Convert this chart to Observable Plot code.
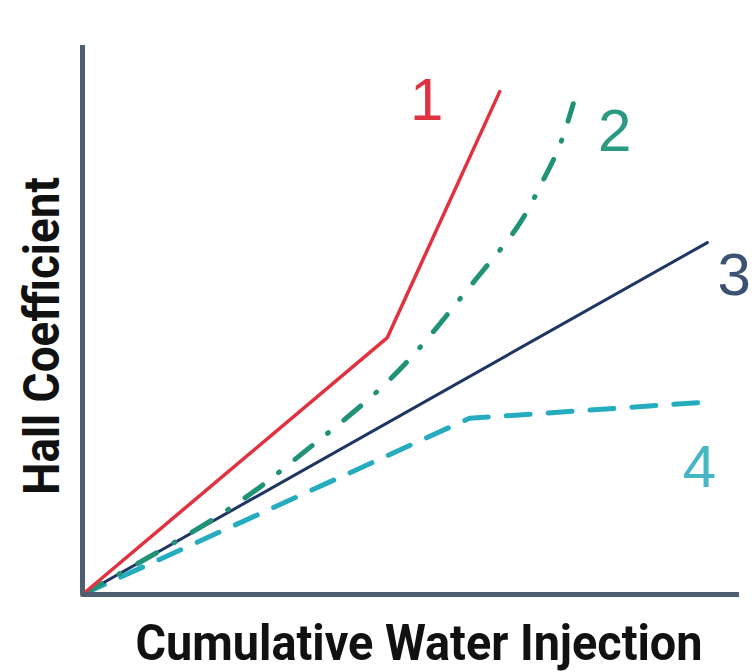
<!DOCTYPE html>
<html>
<head>
<meta charset="utf-8">
<script src="https://cdn.jsdelivr.net/npm/d3@7"></script>
<script src="https://cdn.jsdelivr.net/npm/@observablehq/plot@0.6"></script>
<style>
  html, body { margin: 0; padding: 0; background: #fff; }
  #chart svg { display: block; }
</style>
</head>
<body>
<div id="chart"></div>
<script>
// Series (x = cumulative water injection, y = Hall coefficient), arbitrary units
const series1X = [0, 46.4, 63.5];
const series1Y = [0, 46.8, 91.6];
const series2X = [0, 20.5, 31.7, 39.3, 46.9, 53.7, 60.0, 66.1, 69.7, 72.5, 74.7];
const series2Y = [0, 14.2, 24.0, 31.3, 39.3, 48.3, 57.6, 66.8, 74.5, 81.4, 89.4];
const series3X = [0, 95.1];
const series3Y = [0, 64.1];
const series4X = [0, 58.9, 94.4];
const series4Y = [0, 32.1, 35.0];

const labelText = ["1", "2", "3", "4"];
const labelX = [52.4, 81.0, 99.2, 93.9];
const labelY = [90.0, 84.3, 58.0, 23.1];

const xTitle = "Cumulative Water Injection";
const yTitle = "Hall Coefficient";

const toRows = (xs, ys) => xs.map((x, i) => ({x, y: ys[i]}));
const s1 = toRows(series1X, series1Y);
const s2 = toRows(series2X, series2Y);
const s3 = toRows(series3X, series3Y);
const s4 = toRows(series4X, series4Y);
const labels = labelText.map((t, i) => ({t, x: labelX[i], y: labelY[i]}));

const colors = {"1": "#e0323f", "2": "#1f9277", "3": "#1e3662", "4": "#25adbf"};
const labelColors = {"1": "#e0323f", "2": "#2a9a82", "3": "#3c5272", "4": "#45b6c6"};

const titleFont = "Roboto, 'Liberation Sans', sans-serif";

const chart = Plot.plot({
  width: 752,
  height: 672,
  marginLeft: 82,
  marginRight: 13,
  marginTop: 45,
  marginBottom: 78,
  x: {domain: [0, 100], axis: null},
  y: {domain: [0, 100], axis: null},
  marks: [
    Plot.line(s4, {x: "x", y: "y", stroke: colors["4"], strokeWidth: 5, strokeDasharray: "24,18"}),
    Plot.line(s3, {x: "x", y: "y", stroke: colors["3"], strokeWidth: 3}),
    Plot.line(s2, {x: "x", y: "y", stroke: colors["2"], strokeWidth: 5, curve: "natural", strokeDasharray: "22,20,1,20", strokeLinecap: "round"}),
    Plot.line(s1, {x: "x", y: "y", stroke: colors["1"], strokeWidth: 3.5}),
    Plot.ruleX([0], {stroke: "#4f5f72", strokeWidth: 5}),
    Plot.ruleY([0], {stroke: "#4f5f72", strokeWidth: 5}),
    Plot.text(labels, {x: "x", y: "y", text: "t", fill: d => labelColors[d.t], fontSize: 60, fontFamily: "'Liberation Sans', Arial, sans-serif", textAnchor: "middle", lineAnchor: "middle", clip: false}),
    Plot.text([yTitle], {frameAnchor: "left", rotate: -90, dx: -40, dy: 16, fontSize: 50, fontWeight: "bold", fontFamily: titleFont, fill: "#111", textAnchor: "middle", lineAnchor: "middle", className: "ytitle"}),
    Plot.text([xTitle], {frameAnchor: "bottom", dx: 8, dy: 49, fontSize: 50, fontWeight: "bold", fontFamily: titleFont, fill: "#111", textAnchor: "middle", lineAnchor: "middle", className: "xtitle"})
  ]
});
document.getElementById("chart").appendChild(chart);
// condense the axis titles to the reference's narrow bold face
d3.select(chart).selectAll(".xtitle text").attr("textLength", 567).attr("lengthAdjust", "spacingAndGlyphs");
d3.select(chart).selectAll(".ytitle text").attr("textLength", 318).attr("lengthAdjust", "spacingAndGlyphs");
</script>
</body>
</html>
